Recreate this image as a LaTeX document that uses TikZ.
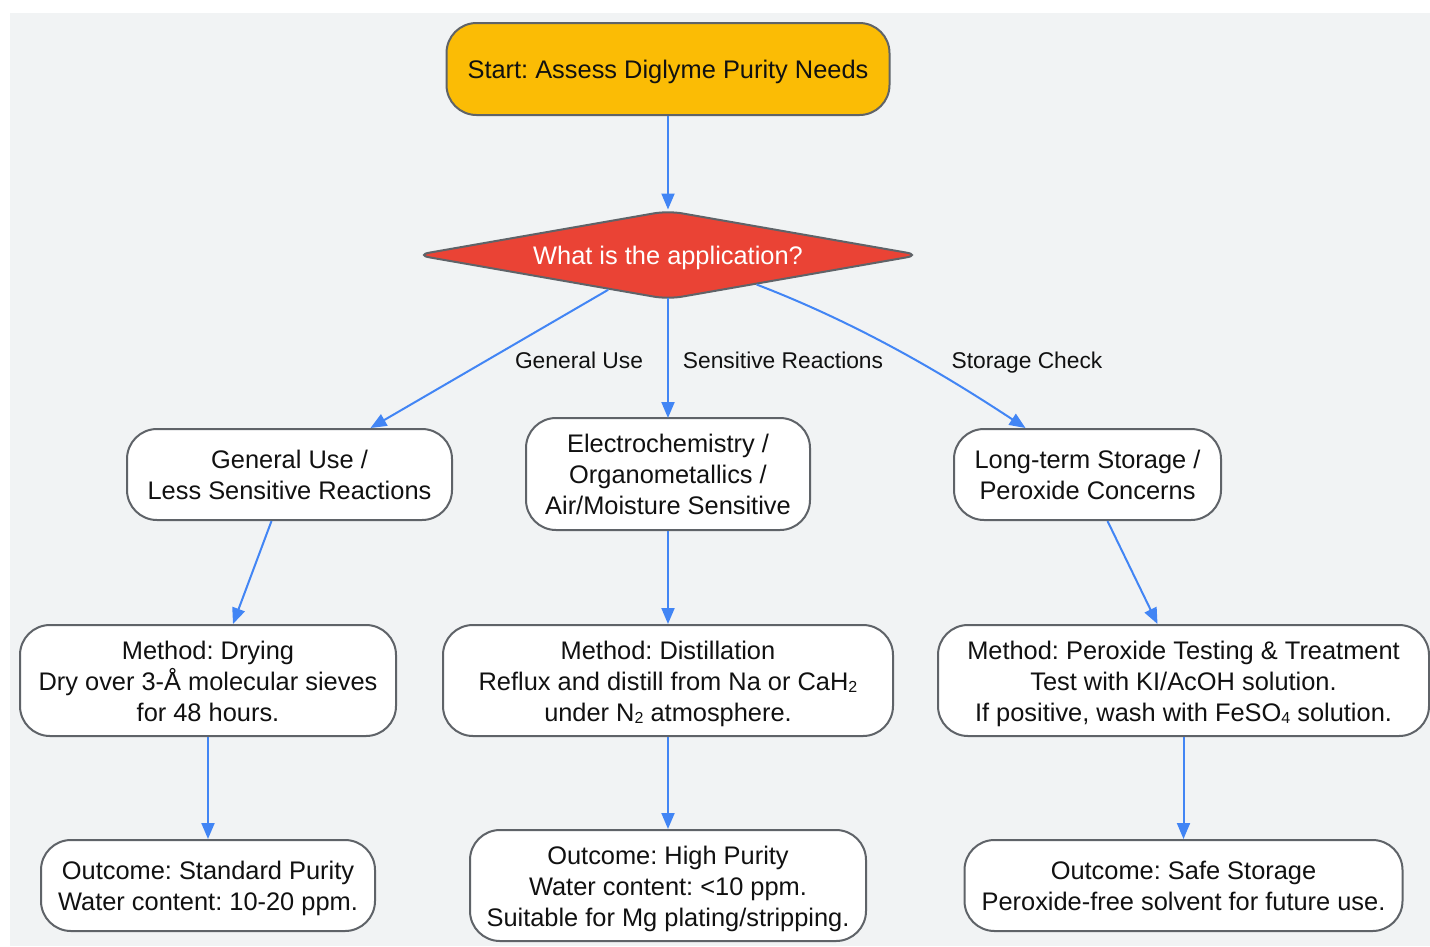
\documentclass[tikz,border=0pt]{standalone}
\usepackage{fontspec}
\setmainfont{Liberation Sans}
\usetikzlibrary{shapes.geometric,arrows.meta,calc}
\definecolor{bgc}{HTML}{F1F3F4}
\definecolor{bordc}{HTML}{5F6368}
\definecolor{edgec}{HTML}{4285F4}
\definecolor{startc}{HTML}{FBBC05}
\definecolor{decc}{HTML}{EA4335}
\definecolor{txtc}{HTML}{111111}
\frenchspacing
\newcommand{\mysub}[1]{\raisebox{-0.1em}{\fontsize{16}{16}\selectfont #1}}
\newcommand{\fls}{\rule{0pt}{25pt}}
\tikzset{
  box/.style={draw=bordc, line width=2pt, fill=white, rounded corners=30pt, align=center, inner sep=0pt, text=txtc,
    font=\fontsize{25.4}{31}\selectfont,
    execute at begin node={\rule{0pt}{24pt}}, execute at end node={\rule[-6pt]{0pt}{6pt}}},
  startbox/.style={box, fill=startc},
  decbox/.style={draw=bordc, line width=2pt, fill=decc, shape=diamond, aspect=5.6, rounded corners=14pt, inner sep=0pt, text=white,
    font=\fontsize{25.4}{31}\selectfont, minimum width=505pt, minimum height=89pt,
    execute at begin node={\rule{0pt}{24pt}}, execute at end node={\rule[-6pt]{0pt}{6pt}}},
  conn/.style={draw=edgec, line width=2pt, -{Triangle[length=16pt,width=13pt]}},
  lbl/.style={text=txtc, font=\fontsize{22.8}{27}\selectfont, inner sep=0pt,
    execute at begin node={\rule{0pt}{21.5pt}}, execute at end node={\rule[-5.5pt]{0pt}{5.5pt}}}
}
\begin{document}
\begin{tikzpicture}[x=1pt,y=-1pt]
\useasboundingbox (0,0) rectangle (1430,946);
\fill[bgc] (10,13) rectangle (1430,946);

\node[startbox, minimum width=443pt, minimum height=92pt] (s) at (668,69) {Start: Assess Diglyme Purity Needs};
\node[decbox] (d) at (668,255) {What is the application?};

\node[box, minimum width=325pt, minimum height=91pt] (g) at (289.5,474.5) {\fls General Use /\\Less Sensitive Reactions};
\node[box, minimum width=284pt, minimum height=112pt] (e) at (668,474) {\fls Electrochemistry /\\Organometallics /\\Air/Moisture Sensitive};
\node[box, minimum width=267pt, minimum height=91pt] (l) at (1087.5,474.5) {\fls Long-term Storage /\\Peroxide Concerns};

\node[box, minimum width=376pt, minimum height=111pt] (md) at (208,680.5) {\fls Method: Drying\\Dry over 3-Å molecular sieves\\for 48 hours.};
\node[box, minimum width=450pt, minimum height=111pt] (mx) at (668,680.5) {\fls Method: Distillation\\Reflux and distill from Na or CaH\mysub{2}\\under N\mysub{2} atmosphere.};
\node[box, minimum width=491pt, minimum height=111pt] (mp) at (1183.5,680.5) {\fls Method: Peroxide Testing \& Treatment\\Test with KI/AcOH solution.\\If positive, wash with FeSO\mysub{4} solution.};

\node[box, minimum width=334pt, minimum height=91pt] (os) at (208,885.5) {\fls Outcome: Standard Purity\\Water content: 10-20 ppm.};
\node[box, minimum width=396pt, minimum height=111pt] (oh) at (668,885.5) {\fls Outcome: High Purity\\Water content: <10 ppm.\\Suitable for Mg plating/stripping.};
\node[box, minimum width=438pt, minimum height=91pt] (ok) at (1183.5,885.5) {\fls Outcome: Safe Storage\\Peroxide-free solvent for future use.};

\draw[conn] (s) -- (d);
\draw[conn] (d) -- ([xshift=81pt]g.north);
\draw[conn] ([yshift=3pt]d.south) -- ([yshift=-1pt]e.north);
\draw[conn] ($(d.south)!0.35!(d.east)$) .. controls (870,328) and (960,385) .. ([xshift=-62pt]l.north);

\draw[conn] ([xshift=-18pt]g.south) -- ([xshift=25pt]md.north);
\draw[conn] (e) -- (mx);
\draw[conn] ([xshift=20pt]l.south) -- ([xshift=-26pt]mp.north);

\draw[conn] (md) -- (os);
\draw[conn] (mx) -- (oh);
\draw[conn] (mp) -- (ok);

\node[lbl] (lg) at (579,360) {General Use};
\node[lbl] (ls) at (783,360) {Sensitive Reactions};
\node[lbl] (lc) at (1027,360) {Storage Check};
\end{tikzpicture}
\end{document}
